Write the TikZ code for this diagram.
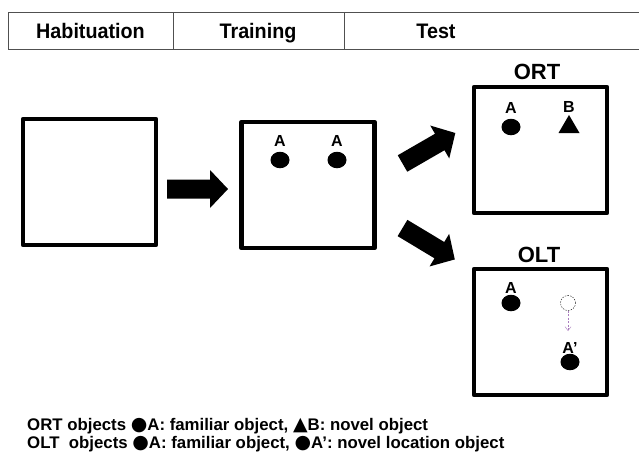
\documentclass[tikz,border=0pt]{standalone}
\usepackage{fontspec}
\setmainfont{Liberation Sans}
\newfontfamily\headfont[FakeStretch=0.94]{Liberation Sans}
\newfontfamily\symfont{DejaVu Sans}
\newcommand{\legsym}[1]{\smash{\symfont\fontsize{19}{20}\selectfont #1}}
\usetikzlibrary{shapes.geometric,arrows.meta}
\definecolor{moveclr}{RGB}{170,125,190}
\definecolor{rulegray}{RGB}{80,80,80}
\tikzset{
  arena/.style={draw, line width=4.5pt, line join=round, inner sep=0pt,
    minimum width=133pt, minimum height=126pt},
  head/.style={font=\headfont\fontsize{21}{25}\selectfont\bfseries, anchor=base, inner sep=0pt},
  testlbl/.style={font=\fontsize{22}{26}\selectfont\bfseries, anchor=base, inner sep=0pt},
  objlbl/.style={font=\fontsize{16}{19}\selectfont\bfseries, anchor=base, inner sep=0pt},
  legend/.style={font=\fontsize{16.8}{20}\selectfont\bfseries, anchor=base west, inner sep=0pt},
  obj/.style={ellipse, fill=black, inner sep=0pt, minimum width=19pt, minimum height=16.5pt},
  ghost/.style={circle, draw, thin, dash pattern=on 1.5pt off 1.2pt, inner sep=0pt, minimum size=15pt},
  moveline/.style={draw=moveclr, thin, dash pattern=on 2pt off 1.5pt, -{Straight Barb[length=4pt,width=6pt]}},
  blockarrow/.pic={\fill (0,-9.5) -- (43,-9.5) -- (43,-19) -- (61,0) -- (43,19) -- (43,9.5) -- (0,9.5) -- cycle;}
}
\begin{document}
\begin{tikzpicture}[x=1pt, y=-1pt]
\useasboundingbox (0,0) rectangle (639,456);
\fill[white] (0,0) rectangle (639,456);

% phase header row
\draw[rulegray, line width=0.9pt] (8,12) -- (639,12) (8,49) -- (639,49)
  (8,12) -- (8,49) (173,12) -- (173,49) (344,12) -- (344,49);
\node[head] (hHab) at (90.5,38) {Habituation};
\node[head] (hTrain) at (258,38) {Training};
\node[head] (hTest) at (436,38) {Test};

% arenas
\node[arena] (hab) at (89.5,182) {};
\node[arena] (train) at (308,185) {};
\node[arena] (ort) at (540.5,150) {};
\node[arena] (olt) at (540.5,332) {};

\node[testlbl] (ortT) at (537,79) {ORT};
\node[testlbl] (oltT) at (539,262) {OLT};

% phase arrows
\pic at (167,189) {blockarrow};
\pic[rotate=30] at (402.5,163.5) {blockarrow};
\pic[rotate=-31] at (402.5,228) {blockarrow};

% training objects
\node[objlbl] (tA1l) at (280,146) {A};
\node[obj] (tA1) at (280,160) {};
\node[objlbl] (tA2l) at (337,146) {A};
\node[obj] (tA2) at (337,160) {};

% object recognition test
\node[objlbl] (oA) at (511,113) {A};
\node[obj] (oAobj) at (511,127) {};
\node[objlbl] (oB) at (569,112) {B};
\fill (569,115) -- (579.5,133) -- (558.5,133) -- cycle;

% object location test
\node[objlbl] (lA) at (511,293) {A};
\node[obj] (lAobj) at (511,303) {};
\node[ghost] (lOld) at (568,303) {};
\coordinate (lTo) at (568,331);
\draw[moveline] (lOld.south) -- (lTo);
\node[objlbl] (lAp) at (570,353) {A’};
\node[obj] (lApobj) at (570,362) {};

% legend
\node[legend] (leg1) at (27,430) {ORT objects \legsym{●}A: familiar object, \legsym{▲}B: novel object};
\node[legend] (leg2) at (27,448) {OLT\ \ objects \legsym{●}A: familiar object, \legsym{●}A’: novel location object};
\end{tikzpicture}
\end{document}
